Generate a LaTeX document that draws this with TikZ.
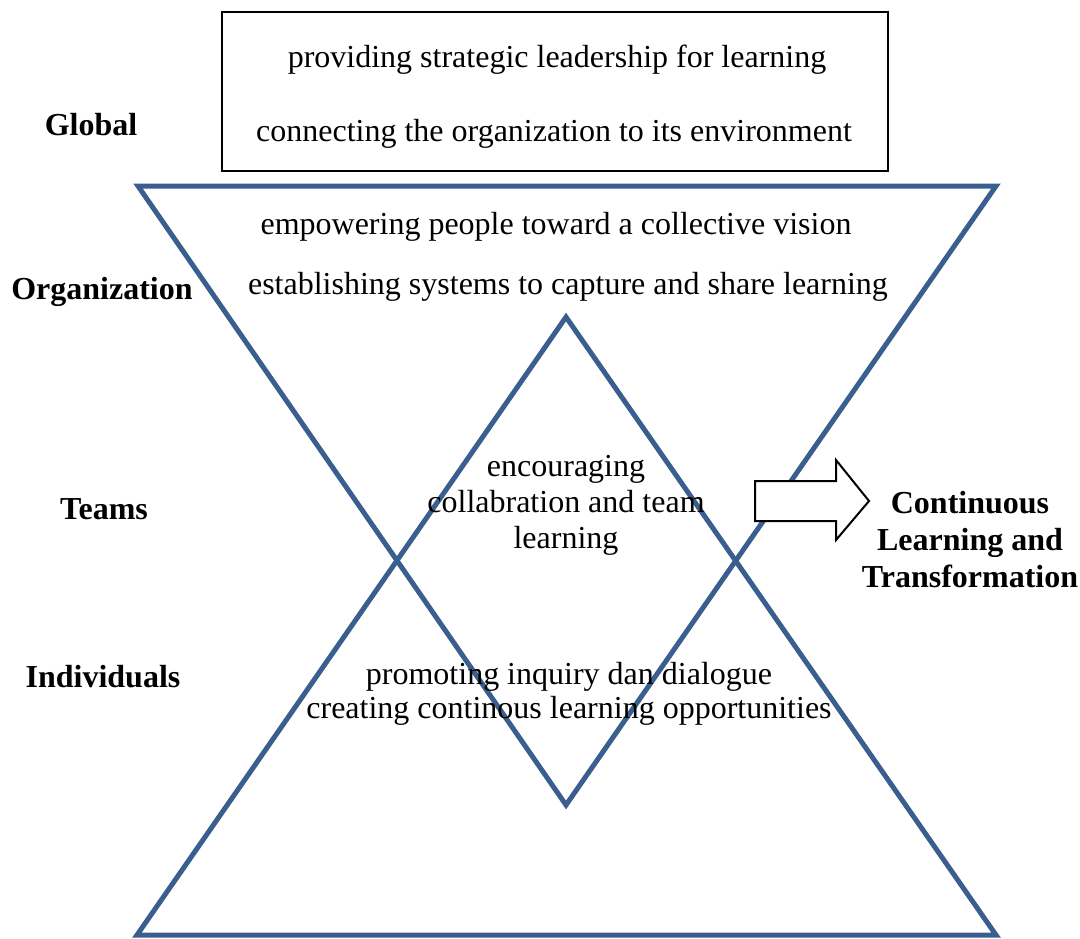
\documentclass[tikz,border=0pt]{standalone}
\usepackage{fontspec}
\setmainfont{Liberation Serif}
\usetikzlibrary{calc}
\definecolor{edgeblue}{HTML}{3A5F8E}
\newcommand{\level}[3]{%
 \node[font=\fontsize{16}{18}\selectfont\bfseries] ({#1}) at ({#2}) {#3};%
}
\newcommand{\action}[3]{%
 \node[align=center] ({#1}) at ({#2}) {#3};%
}

\begin{document}
\begin{tikzpicture}[x=0.5pt,y=-0.5pt,
  every node/.style={inner sep=0pt,font=\fontsize{16}{18}\selectfont},
  tri/.style={draw=edgeblue,line width=2.5pt,line join=miter}]
  \useasboundingbox (0,0) rectangle (1080,938);
  % levels on the left
  \level{global}{91,125}{Global};
  \level{org}{102,292}{Organization};
  \level{teams}{104,509}{Teams};
  \level{indiv}{103,677}{Individuals};
  % top box
  \draw[line width=1pt] (222,12) rectangle (888,171);
  \action{lead}{557,60}{providing strategic leadership for learning};
  \action{env}{554,134}{connecting the organization to its environment};
  % the two triangles
  \draw[tri] (138,186) -- (996,186) -- (566,805) -- cycle;
  \draw[tri] (566,317) -- (996,935) -- (137,935) -- cycle;
  \action{vision}{556,227}{empowering people toward a collective vision};
  \action{systems}{568,287}{establishing systems to capture and share learning};
  \node[align=center,font=\fontsize{16}{18}\selectfont] (team) at (566,505)
    {encouraging\\collabration and team\\learning};
  \node[align=center,font=\fontsize{16}{17}\selectfont] (inquiry) at (569,694)
    {promoting inquiry dan dialogue\\creating continous learning opportunities};
  % arrow to the outcome
  \draw[line width=1pt,fill=white] (755,481) -- (836,481) -- (836,460) -- (869,501)
    -- (836,540) -- (836,521) -- (755,521) -- cycle;
  \node[align=center,font=\fontsize{16}{18.5}\selectfont\bfseries] (outcome) at (970,540)
    {Continuous\\Learning and\\Transformation};
\end{tikzpicture}
\end{document}
